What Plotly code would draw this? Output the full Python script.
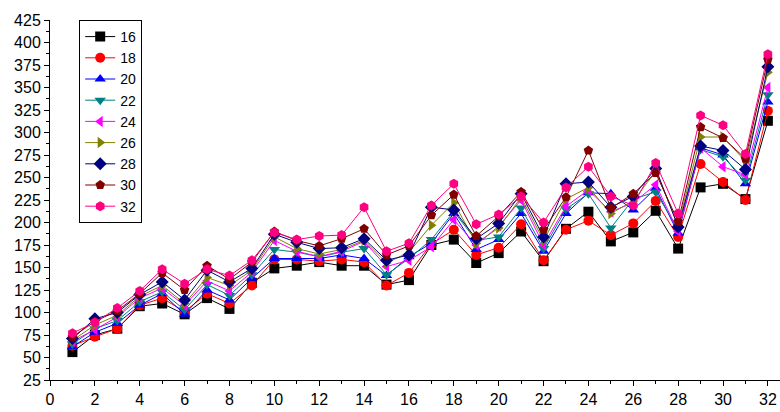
import plotly.graph_objects as go

x = list(range(1, 33))
names = ["16", "18", "20", "22", "24", "26", "28", "30", "32"]

s16 = [56, 75, 82, 107, 110, 98, 116, 104, 133, 149, 152, 156, 152, 152, 131, 136, 175, 181, 155, 166, 190, 157, 193, 212, 179, 189, 213, 171, 239, 243, 226, 313]
s18 = [63, 73, 82, 108, 116, 101, 121, 110, 130, 159, 159, 157, 159, 156, 130, 144, 176, 192, 164, 172, 198, 158, 192, 202, 186, 199, 224, 184, 265, 245, 225, 324]
s20 = [62, 78, 88, 108, 121, 98, 125, 114, 138, 160, 160, 160, 164, 160, 141, 162, 177, 210, 170, 181, 210, 168, 210, 233, 232, 214, 238, 188, 283, 275, 243, 334]
s22 = [65, 82, 91, 112, 123, 103, 131, 119, 142, 170, 167, 162, 167, 171, 142, 160, 181, 212, 180, 184, 216, 171, 215, 232, 194, 226, 234, 192, 281, 273, 247, 342]
s24 = [68, 81, 95, 116, 127, 108, 135, 124, 145, 180, 168, 162, 168, 179, 151, 158, 173, 203, 175, 196, 225, 175, 218, 236, 212, 222, 242, 190, 283, 262, 253, 350]
s26 = [69, 86, 97, 118, 130, 110, 139, 130, 147, 184, 171, 165, 170, 180, 155, 167, 197, 222, 177, 194, 228, 180, 226, 239, 210, 224, 257, 197, 295, 295, 268, 367]
s28 = [71, 93, 100, 120, 134, 114, 147, 134, 149, 187, 178, 171, 172, 182, 158, 164, 217, 214, 182, 199, 232, 184, 243, 245, 217, 229, 260, 195, 285, 280, 259, 373]
s30 = [73, 90, 102, 121, 144, 125, 152, 137, 156, 190, 180, 174, 182, 193, 164, 174, 208, 231, 185, 207, 234, 192, 228, 280, 216, 232, 255, 201, 306, 294, 271, 381]
s32 = [77, 89, 105, 124, 148, 132, 148, 141, 158, 189, 181, 185, 186, 217, 168, 177, 219, 243, 198, 209, 229, 200, 239, 262, 229, 219, 266, 210, 319, 308, 276, 387]

series = [s16, s18, s20, s22, s24, s26, s28, s30, s32]
colors = ["#000000", "#FF0000", "#0000FF", "#008080", "#FF00FF", "#808000", "#000080", "#800000", "#FF0080"]
symbols = ["square", "circle", "triangle-up", "triangle-down", "triangle-left",
           "triangle-right", "diamond", "pentagon", "hexagon"]

fig = go.Figure()
for n, s, c, m in zip(names, series, colors, symbols):
    fig.add_trace(go.Scatter(
        x=x, y=s, name=n, mode="lines+markers",
        line=dict(color=c, width=1),
        marker=dict(symbol=m, size=10, color=c, line=dict(width=0)),
    ))

fig.update_layout(
    width=780, height=412,
    margin=dict(l=50, r=0, t=20, b=32),
    plot_bgcolor="white", paper_bgcolor="white",
    font=dict(family="Arial, Liberation Sans, sans-serif", size=16, color="black"),
    showlegend=True,
    legend=dict(
        x=0.04, y=1.0, xanchor="left", yanchor="top",
        bordercolor="black", borderwidth=1, bgcolor="white",
        font=dict(size=14), tracegroupgap=0, itemwidth=30,
    ),
    xaxis=dict(
        range=[0, 32.54], tickmode="linear", tick0=0, dtick=2,
        showgrid=False, zeroline=False, showline=True, linecolor="black", linewidth=1,
        ticks="outside", ticklen=5, tickcolor="black",
        minor=dict(ticks="outside", ticklen=3, dtick=1, tickcolor="black"),
        tickfont=dict(size=16),
    ),
    yaxis=dict(
        range=[25, 425], tickmode="linear", tick0=25, dtick=25,
        showgrid=False, zeroline=False, showline=True, linecolor="black", linewidth=1,
        ticks="outside", ticklen=5, tickcolor="black",
        minor=dict(ticks="outside", ticklen=3, dtick=12.5, tickcolor="black"),
        tickfont=dict(size=16),
    ),
)

fig.write_html("out.html")
